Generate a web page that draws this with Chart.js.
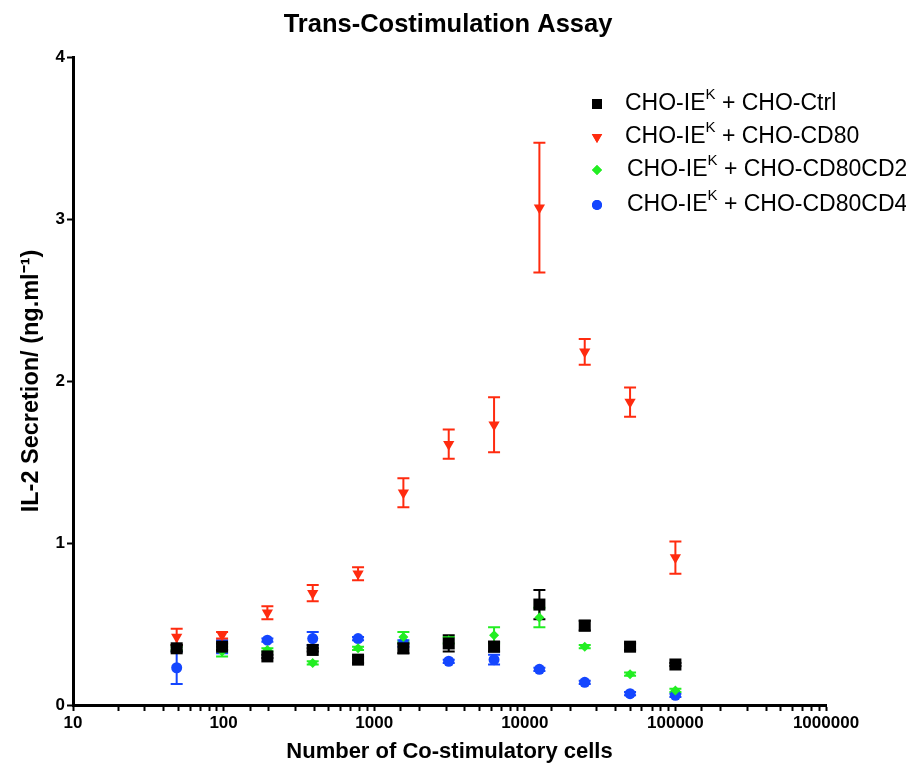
<!DOCTYPE html>
<html>
<head>
<meta charset="utf-8">
<script src="https://cdn.jsdelivr.net/npm/chart.js@4.4.1/dist/chart.umd.min.js"></script>
<style>
  body { margin: 0; background: #fff; }
  #wrap { width: 906px; height: 766px; }
</style>
</head>
<body>
<div id="wrap"><canvas id="chart" width="906" height="766"></canvas></div>
<script>
// number of co-stimulatory cells (two-fold dilutions)
const cellCounts = [48.8, 97.7, 195.3, 390.6, 781.25, 1562.5, 3125, 6250, 12500, 25000, 50000, 100000];

// IL-2 secretion, mean and error per group (ng/ml)
const ctrlMean = [0.35, 0.36, 0.30, 0.34, 0.28, 0.35, 0.38, 0.36, 0.62, 0.49, 0.36, 0.25];
const ctrlErr  = [0.02, 0.02, 0.01, 0.01, 0.02, 0.03, 0.05, 0.03, 0.09, 0.03, 0.02, 0.01];
const cd80Mean = [0.42, 0.43, 0.57, 0.69, 0.81, 1.31, 1.61, 1.73, 3.07, 2.18, 1.87, 0.91];
const cd80Err  = [0.05, 0.02, 0.04, 0.05, 0.04, 0.09, 0.09, 0.17, 0.40, 0.08, 0.09, 0.10];
const cd2Mean  = [0.35, 0.33, 0.34, 0.26, 0.35, 0.42, 0.40, 0.43, 0.54, 0.36, 0.19, 0.09];
const cd2Err   = [0.01, 0.03, 0.01, 0.01, 0.01, 0.03, 0.02, 0.05, 0.06, 0.01, 0.01, 0.01];
const cd4Mean  = [0.23, 0.36, 0.40, 0.41, 0.41, 0.38, 0.27, 0.28, 0.22, 0.14, 0.07, 0.06];
const cd4Err   = [0.10, 0.04, 0.01, 0.04, 0.01, 0.02, 0.01, 0.03, 0.01, 0.01, 0.01, 0.01];

const legendNames = ['CHO-Ctrl', 'CHO-CD80', 'CHO-CD80CD2', 'CHO-CD80CD4'];
const yTicks = [0, 1, 2, 3, 4];

const FONT = '"Liberation Sans", Arial, sans-serif';

function toPoints(means) {
  return means.map((v, i) => ({ x: cellCounts[i], y: v }));
}

// error bars, drawn under the markers
const errorBars = {
  id: 'errorBars',
  beforeDatasetsDraw(chart) {
    const ctx = chart.ctx;
    const xs = chart.scales.x;
    const ys = chart.scales.y;
    ctx.save();
    chart.data.datasets.slice().reverse().forEach(ds => {
      ctx.strokeStyle = ds.backgroundColor;
      ctx.lineWidth = 2;
      ds.data.forEach((p, i) => {
        const e = ds.errors[i];
        const x = xs.getPixelForValue(p.x);
        const top = ys.getPixelForValue(p.y + e);
        const bot = ys.getPixelForValue(p.y - e);
        ctx.beginPath();
        ctx.moveTo(x, top); ctx.lineTo(x, bot);
        ctx.moveTo(x - 6, top); ctx.lineTo(x + 6, top);
        ctx.moveTo(x - 6, bot); ctx.lineTo(x + 6, bot);
        ctx.stroke();
      });
    });
    ctx.restore();
  }
};

// legend inside the plot, with a superscript K
const innerLegend = {
  id: 'innerLegend',
  afterDraw(chart) {
    const ctx = chart.ctx;
    const rows = [104, 137, 170, 205];
    const textX = [625, 625, 627, 627];
    ctx.save();
    chart.data.datasets.forEach((ds, i) => {
      const y = rows[i];
      ctx.fillStyle = ds.backgroundColor;
      Chart.helpers.drawPoint(ctx, {
        pointStyle: ds.pointStyle,
        radius: ds.legendRadius,
        rotation: ds.rotation || 0,
        borderWidth: 0
      }, 597, y);
      ctx.fill();

      ctx.fillStyle = '#000';
      ctx.textBaseline = 'middle';
      ctx.textAlign = 'left';
      let x = textX[i];
      ctx.font = '23px ' + FONT;
      ctx.fillText('CHO-IE', x, y);
      x += ctx.measureText('CHO-IE').width;
      ctx.font = '15px ' + FONT;
      ctx.fillText('K', x, y - 9);
      x += ctx.measureText('K').width;
      ctx.font = '23px ' + FONT;
      ctx.fillText(' + ' + legendNames[i], x, y);
    });
    ctx.restore();
  }
};

new Chart(document.getElementById('chart'), {
  type: 'scatter',
  data: {
    datasets: [
      {
        label: legendNames[0], data: toPoints(ctrlMean), errors: ctrlErr,
        backgroundColor: '#000000', pointStyle: 'rect', pointRadius: 8.5, legendRadius: 7
      },
      {
        label: legendNames[1], data: toPoints(cd80Mean), errors: cd80Err,
        backgroundColor: '#ff2b0f', pointStyle: 'triangle', rotation: 180,
        pointRotation: 180, pointRadius: 6.5, legendRadius: 6
      },
      {
        label: legendNames[2], data: toPoints(cd2Mean), errors: cd2Err,
        backgroundColor: '#22ee22', pointStyle: 'rectRot', pointRadius: 5, legendRadius: 5
      },
      {
        label: legendNames[3], data: toPoints(cd4Mean), errors: cd4Err,
        backgroundColor: '#1446ff', pointStyle: 'circle', pointRadius: 5.5, legendRadius: 5
      }
    ]
  },
  options: {
    responsive: false,
    animation: false,
    layout: { padding: { left: 0, right: 10, top: 0, bottom: 0 } },
    elements: { point: { borderWidth: 0, hoverRadius: 0 } },
    plugins: {
      legend: { display: false },
      tooltip: { enabled: false },
      title: {
        display: true,
        text: 'Trans-Costimulation Assay',
        color: '#000',
        font: { family: FONT, size: 25.5, weight: 'bold' },
        padding: { top: 10, bottom: 16.4 }
      }
    },
    scales: {
      x: {
        type: 'logarithmic',
        min: 10,
        max: 1000000,
        afterFit(scale) { scale.height = 61; },
        border: { display: true, color: '#000', width: 3 },
        grid: { drawOnChartArea: false, drawTicks: true, tickLength: 6, tickColor: '#000', tickWidth: 2 },
        ticks: {
          autoSkip: false,
          maxRotation: 0,
          padding: 2,
          color: '#000',
          font: { family: FONT, size: 17, weight: 'bold' },
          callback(value) {
            const l = Math.log10(value);
            return Math.abs(l - Math.round(l)) < 1e-9 ? String(value) : '';
          }
        },
        title: {
          display: true,
          text: 'Number of Co-stimulatory cells',
          color: '#000',
          font: { family: FONT, size: 22, weight: 'bold' },
          padding: { top: 0, bottom: 1 }
        }
      },
      y: {
        min: 0,
        max: 4,
        afterFit(scale) { scale.width = 73; },
        afterBuildTicks(scale) { scale.ticks = yTicks.map(v => ({ value: v })); },
        border: { display: true, color: '#000', width: 3 },
        grid: { drawOnChartArea: false, drawTicks: true, tickLength: 6, tickColor: '#000', tickWidth: 2 },
        ticks: {
          padding: 2,
          color: '#000',
          font: { family: FONT, size: 17, weight: 'bold' }
        },
        title: {
          display: true,
          text: 'IL-2 Secretion/ (ng.ml\u207B\u00B9)',
          color: '#000',
          font: { family: FONT, size: 23.5, weight: 'bold' },
          padding: { top: 17, bottom: 0 }
        }
      },
      // empty right-hand strip so the plot ends where the original does
      spacer: {
        type: 'linear',
        position: 'right',
        afterFit(scale) { scale.width = 70; },
        border: { display: false },
        grid: { display: false },
        ticks: { display: false }
      }
    }
  },
  plugins: [errorBars, innerLegend]
});
</script>
</body>
</html>
